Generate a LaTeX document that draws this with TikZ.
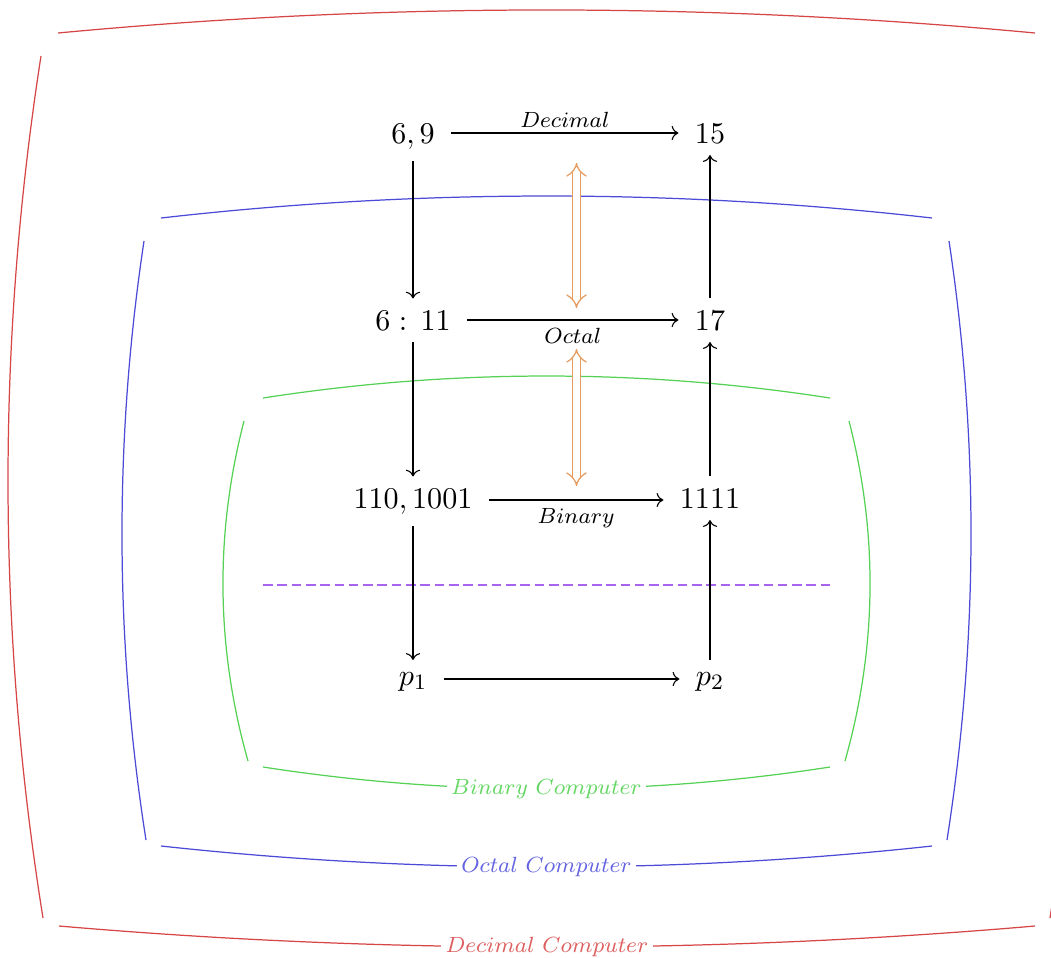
\documentclass[tikz,border=0pt]{standalone}
\usetikzlibrary{arrows.meta}
\definecolor{redline}{RGB}{214,70,70}
\definecolor{redtext}{RGB}{222,95,95}
\definecolor{blueline}{RGB}{75,75,215}
\definecolor{bluetext}{RGB}{100,100,225}
\definecolor{greenline}{RGB}{85,210,85}
\definecolor{greentext}{RGB}{100,215,100}
\definecolor{orangec}{RGB}{230,155,95}
\definecolor{purplec}{RGB}{168,100,238}
\begin{document}
\begin{tikzpicture}[x=0.3636pt,y=-0.3636pt,
  obj/.style={inner xsep=5.8pt, inner ysep=4.2pt, anchor=base, font=\fontsize{10.95}{13.6}\selectfont},
  map/.style={draw=black, line width=0.4pt, -{Computer Modern Rightarrow}},
  lbl/.style={font=\fontsize{8}{9.6}\selectfont},
  above lbl/.style={lbl, midway, above, inner sep=1.8pt},
  below lbl/.style={lbl, midway, below, inner sep=2.8pt},
  border/.style={line width=0.45pt},
  boxlbl/.style={font=\fontsize{8}{9.6}\selectfont, pos=0.5, fill=white, inner sep=1.5pt},
  dbl/.style={color=orangec, line width=0.45pt, double=white, double distance=2.2pt, {Implies}-{Implies}}
]
\useasboundingbox (0,0) rectangle (1051,958);

% ---- Decimal computer (red)
\coordinate (rTl) at (58,33);   \coordinate (rTr) at (1035,33);
\coordinate (rLt) at (41,56);   \coordinate (rLb) at (43,918);
\coordinate (rRt) at (1052,56); \coordinate (rRb) at (1050,918);
\coordinate (rBl) at (59,926);  \coordinate (rBr) at (1035,926);
\draw[border, redline] (rTl) .. controls (383.7,2.3) and (709.3,2.3) .. (rTr);
\draw[border, redline] (rLt) .. controls (-3.6,343.3) and (-3,630.7) .. (rLb);
\draw[border, redline] (rRt) .. controls (1096.6,343.3) and (1096,630.7) .. (rRb);
\draw[border, redline] (rBl) .. controls (384.3,954) and (709.7,954) .. (rBr)
  node[boxlbl, text=redtext] (rlab) {$Decimal\ Computer$};

% ---- Octal computer (blue)
\coordinate (bTl) at (161,218); \coordinate (bTr) at (932,218);
\coordinate (bLt) at (144,241); \coordinate (bLb) at (146,840);
\coordinate (bRt) at (949,241); \coordinate (bRb) at (947,840);
\coordinate (bBl) at (161,846); \coordinate (bBr) at (932,846);
\draw[border, blueline] (bTl) .. controls (418,188.7) and (675,188.7) .. (bTr);
\draw[border, blueline] (bLt) .. controls (114,440.7) and (114.7,640.3) .. (bLb);
\draw[border, blueline] (bRt) .. controls (979,440.7) and (978.3,640.3) .. (bRb);
\draw[border, blueline] (bBl) .. controls (418,874) and (675,874) .. (bBr)
  node[boxlbl, text=bluetext] (blab) {$Octal\ Computer$};

% ---- Binary computer (green)
\coordinate (gTl) at (263,398); \coordinate (gTr) at (830,398);
\coordinate (gLt) at (244,421); \coordinate (gLb) at (248,761);
\coordinate (gRt) at (849,421); \coordinate (gRb) at (845,761);
\coordinate (gBl) at (263,767); \coordinate (gBr) at (830,767);
\draw[border, greenline] (gTl) .. controls (452,368.7) and (641,368.7) .. (gTr);
\draw[border, greenline] (gLt) .. controls (214.7,534.3) and (216,647.7) .. (gLb);
\draw[border, greenline] (gRt) .. controls (878.3,534.3) and (877,647.7) .. (gRb);
\draw[border, greenline] (gBl) .. controls (452,796.3) and (641,796.3) .. (gBr)
  node[boxlbl, text=greentext] (glab) {$Binary\ Computer$};

% ---- dashed separator
\coordinate (dl) at (263,585); \coordinate (dr) at (830,585);
\draw[purplec, line width=0.45pt, dash pattern=on 3.5pt off 1.7pt] (dl) -- (dr);

% ---- nodes
\node[obj] (a1) at (413,143) {$6,9$};
\node[obj] (b1) at (710,143) {$15$};
\node[obj] (a2) at (413,330) {$6:\,11$};
\node[obj] (b2) at (710,330) {$17$};
\node[obj] (a3) at (413,508) {$110,1001$};
\node[obj] (b3) at (710,508) {$1111$};
\node[obj] (a4) at (413,685) {$p_1$};
\node[obj] (b4) at (710,685) {$p_2$};

\coordinate (r1) at (0,133);
\coordinate (r2) at (0,320);
\coordinate (r3) at (0,500);
\coordinate (r4) at (0,679);

% horizontal maps
\draw[map] (a1.east |- r1) -- (b1.west |- r1) node[above lbl] {$Decimal$};
\draw[map] (a2.east |- r2) -- (b2.west |- r2) node[below lbl] {$Octal$};
\draw[map] (a3.east |- r3) -- (b3.west |- r3) node[below lbl] {$Binary$};
\draw[map] (a4.east |- r4) -- (b4.west |- r4);

% vertical maps
\draw[map] (a1) -- (a2);
\draw[map] (a2) -- (a3);
\draw[map] (a3) -- (a4);
\draw[map] (b4) -- (b3);
\draw[map] (b3) -- (b2);
\draw[map] (b2) -- (b1);

% equivalences
\coordinate (e1t) at (576.5,163); \coordinate (e1b) at (576.5,308);
\coordinate (e2t) at (576.5,349); \coordinate (e2b) at (576.5,486);
\draw[dbl] (e1t) -- (e1b);
\draw[dbl] (e2t) -- (e2b);
\end{tikzpicture}
\end{document}
